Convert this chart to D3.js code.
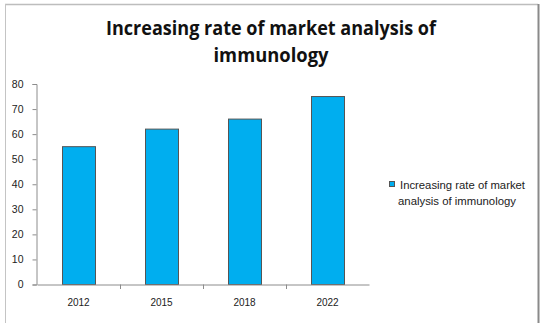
<!DOCTYPE html>
<html><head><meta charset="utf-8">
<script src="https://cdn.jsdelivr.net/npm/d3@7"></script>
<style>body{margin:0;background:#fff}svg{display:block}</style>
</head><body>
<script>
const categories = ["2012","2015","2018","2022"];
const values = [55, 62, 66, 75];
const yTicks = [0,10,20,30,40,50,60,70,80];
const titleLines = ["Increasing rate of market analysis of","immunology"];
const legendLines = ["Increasing rate of market","analysis of immunology"];

const W=544,H=323;
const svg=d3.select("body").append("svg").attr("width",W).attr("height",H);
svg.append("rect").attr("width",W).attr("height",H).attr("fill","#fff");
// frame
svg.append("line").attr("x1",5).attr("x2",538).attr("y1",4.5).attr("y2",4.5).attr("stroke","#bdbdbd").attr("stroke-width",1.5);
svg.append("line").attr("x1",5.5).attr("x2",5.5).attr("y1",4).attr("y2",H).attr("stroke","#c4c4c4").attr("stroke-width",1);
svg.append("line").attr("x1",538.5).attr("x2",538.5).attr("y1",4).attr("y2",H).attr("stroke","#8a8a8a").attr("stroke-width",2);

const x=d3.scaleBand().domain(categories).range([37,369]).paddingInner(0.6).paddingOuter(0.3);
const xb=d3.scaleBand().domain(categories).range([37,369]);
const y=d3.scaleLinear().domain([0,80]).range([284.5,84]);

// title
const tf="'Open Sans', 'DejaVu Sans', sans-serif";
svg.append("text").attr("x",271).attr("y",35).attr("text-anchor","middle")
  .attr("font-family",tf).attr("font-weight","bold").attr("font-size",20)
  .attr("textLength",330).attr("lengthAdjust","spacingAndGlyphs").attr("fill","#111").text(titleLines[0]);
svg.append("text").attr("x",271).attr("y",62).attr("text-anchor","middle")
  .attr("font-family",tf).attr("font-weight","bold").attr("font-size",20)
  .attr("textLength",115).attr("lengthAdjust","spacingAndGlyphs").attr("fill","#111").text(titleLines[1]);

// bars
svg.selectAll("rect.bar").data(values).join("rect").attr("class","bar")
  .attr("x",(d,i)=>Math.round(xb(categories[i])+xb.bandwidth()*0.3)+0.5)
  .attr("width",Math.round(xb.bandwidth()*0.4))
  .attr("y",d=>y(d)).attr("height",d=>y(0)-y(d))
  .attr("fill","#00aeef").attr("stroke","#555").attr("stroke-width",1);

const lf="'Liberation Sans', Arial, sans-serif";
// y axis
const ya=svg.append("g").attr("transform","translate(36.5,0)").call(d3.axisLeft(y).tickValues(yTicks).tickSize(4).tickPadding(9).tickFormat(d3.format("d")));
ya.select(".domain").attr("stroke","#8c8c8c");
ya.selectAll(".tick line").attr("stroke","#8c8c8c");
ya.selectAll("text").attr("font-family",lf).attr("font-size",10.5).attr("fill","#222");

// x axis
const xa=svg.append("g").attr("transform","translate(0,284.5)").call(d3.axisBottom(xb).tickSize(0).tickPadding(14));
xa.select(".domain").attr("stroke","#8c8c8c");
xa.selectAll("text").attr("font-family",lf).attr("font-size",10).attr("fill","#222");
svg.selectAll("line.sep").data(categories.slice(1)).join("line").attr("class","sep")
  .attr("x1",d=>Math.round(xb(d))+0.5).attr("x2",d=>Math.round(xb(d))+0.5)
  .attr("y1",284.5).attr("y2",289).attr("stroke","#8c8c8c");

// legend
svg.append("rect").attr("x",389.5).attr("y",181.5).attr("width",5).attr("height",5).attr("fill","#00aeef").attr("stroke","#555");
svg.append("text").attr("x",400).attr("y",189).attr("font-family",lf).attr("font-size",10).attr("fill","#222")
  .attr("textLength",125).attr("lengthAdjust","spacingAndGlyphs").text(legendLines[0]);
svg.append("text").attr("x",398).attr("y",205).attr("font-family",lf).attr("font-size",10).attr("fill","#222")
  .attr("textLength",118).attr("lengthAdjust","spacingAndGlyphs").text(legendLines[1]);
</script>
</body></html>
